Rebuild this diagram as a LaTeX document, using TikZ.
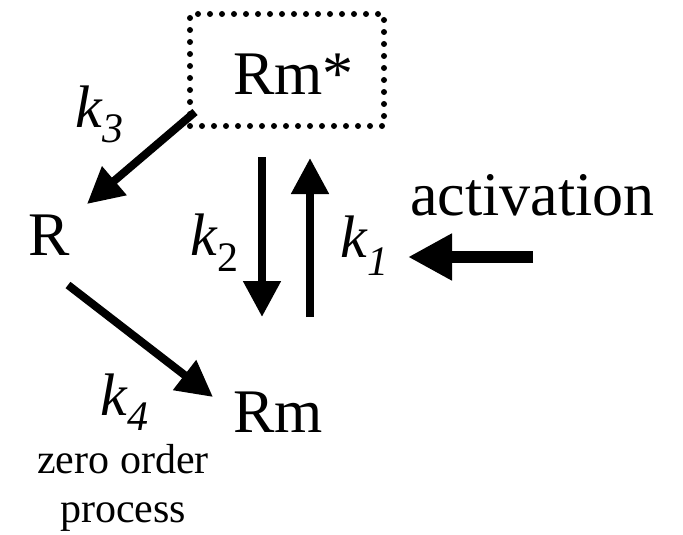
\documentclass[tikz,border=0pt]{standalone}
\usepackage{fontspec}
\setmainfont{Liberation Serif}
\usetikzlibrary{arrows.meta}
\newcommand{\kwith}[2]{\textit{k}\raisebox{-#2}{\fontsize{42}{42}\selectfont #1}}
\begin{document}
\begin{tikzpicture}[x=1pt,y=-1pt,
  big/.style={font=\fontsize{62}{62}\selectfont, inner sep=0pt, anchor=base west},
  klabel/.style={font=\fontsize{60}{60}\selectfont, inner sep=0pt, anchor=base west},
  small/.style={font=\fontsize{42}{42}\selectfont, inner sep=0pt, anchor=base},
  arr/.style={line width=8pt, -{Triangle[length=36pt,width=36pt]}},
  fatarr/.style={line width=12pt, -{Triangle[length=44pt,width=44pt]}},
  dotbox/.style={draw, line width=6pt, dash pattern=on 0pt off 12pt, line cap=round,
    minimum width=194pt, minimum height=112pt, inner sep=0pt}]
\useasboundingbox (0,0) rectangle (683,535);
\node[dotbox] (rmsbox) at (287,70) {};
\node[big] (rms) at (233,95) {Rm*};
\node[big] (r) at (28,255) {R};
\node[big] (rm) at (233,432) {Rm};
\node[big] (act) at (410,215) {activation};
\node[klabel] (k3) at (75,127) {\kwith{\textit{3}}{15pt}};
\node[klabel] (k2) at (190,255) {\kwith{2}{16pt}};
\node[klabel] (k1) at (340,257) {\kwith{\textit{1}}{18pt}};
\node[klabel] (k4) at (100,415) {\kwith{\textit{4}}{15pt}};
\node[small] (zo1) at (123,473) {zero order};
\node[small] (zo2) at (123,522) {process};
\coordinate (k3s) at (195,112);
\coordinate (k3e) at (87,204);
\coordinate (k2s) at (262,157);
\coordinate (k2e) at (262,317);
\coordinate (k1s) at (310,317);
\coordinate (k1e) at (310,158);
\coordinate (acts) at (533,257);
\coordinate (acte) at (408,257);
\coordinate (k4s) at (68,285);
\coordinate (k4e) at (213,397);
\draw[arr] (k3s) -- (k3e);
\draw[arr] (k2s) -- (k2e);
\draw[arr] (k1s) -- (k1e);
\draw[arr] (k4s) -- (k4e);
\draw[fatarr] (acts) -- (acte);
\end{tikzpicture}
\end{document}
